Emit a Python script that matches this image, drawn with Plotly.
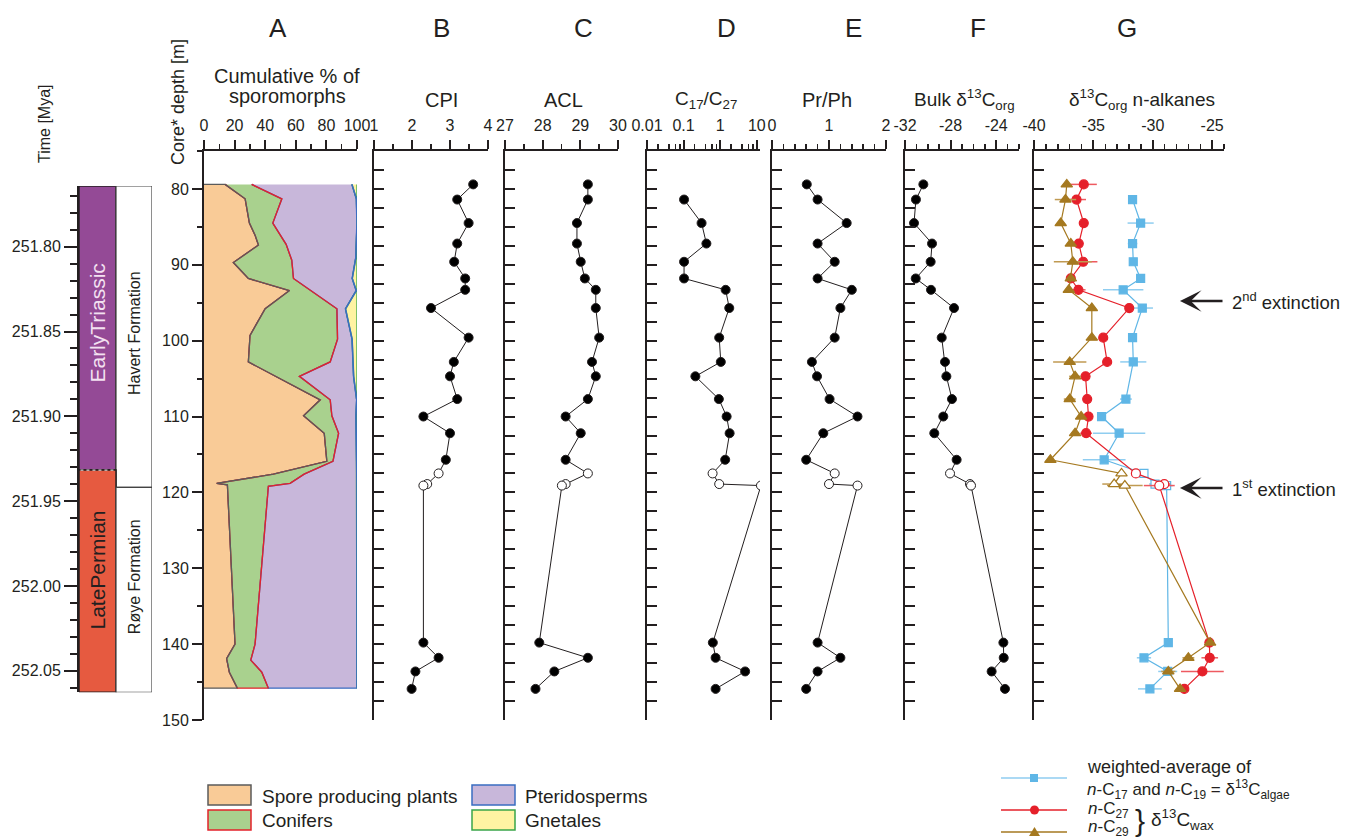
import plotly.graph_objects as go

W, H = 1347, 840

# ---------------- data ----------------
# sample depths (m) shared by panels B, C, E, F and n-C29
depth = [79.4, 81.4, 84.5, 87.2, 89.6, 91.8, 93.3, 95.7, 99.6, 102.8, 104.7,
         107.7, 110.0, 112.2, 115.7, 117.5, 118.9, 119.1, 139.8, 141.8, 143.6, 145.9]
open_depths = [117.5, 118.9, 119.1]

cpi = [3.61, 3.19, 3.49, 3.19, 3.11, 3.40, 3.40, 2.50, 3.49, 3.10, 3.00,
       3.19, 2.30, 3.00, 2.89, 2.70, 2.40, 2.30, 2.30, 2.70, 2.09, 1.99]
acl = [29.20, 29.20, 28.91, 28.91, 29.01, 29.12, 29.41, 29.41, 29.50, 29.31, 29.41,
       29.20, 28.61, 29.01, 28.61, 29.20, 28.61, 28.51, 27.91, 29.20, 28.31, 27.81]
c17c27_depth = [81.4, 84.5, 87.2, 89.6, 91.8, 93.3, 95.7, 99.6, 102.8, 104.7,
                107.7, 110.0, 112.2, 115.7, 117.5, 118.9, 119.1, 139.8, 141.8, 143.6, 145.9]
c17c27 = [0.103, 0.31, 0.42, 0.103, 0.103, 1.41, 1.77, 0.94, 1.04, 0.21,
          0.92, 1.50, 1.81, 1.37, 0.62, 0.94, 13.0, 0.63, 0.75, 4.8, 0.75]
pr_ph = [0.61, 0.80, 1.31, 0.80, 1.10, 0.80, 1.40, 1.20, 1.10, 0.70, 0.79,
         1.01, 1.50, 0.90, 0.60, 1.10, 1.00, 1.50, 0.80, 1.20, 0.80, 0.60]
bulk_d13c = [-30.39, -31.04, -31.21, -29.63, -29.75, -31.06, -29.72, -27.70, -28.78, -28.49, -28.37,
             -27.88, -28.64, -29.43, -27.47, -28.05, -26.30, -26.21, -23.37, -23.34, -24.40, -23.23]

# panel G
algae_depth = [81.4, 84.5, 87.2, 89.6, 91.8, 93.3, 95.7, 99.6, 102.8, 107.7,
               110.0, 112.2, 115.7, 117.5, 118.9, 119.1, 139.8, 141.8, 143.6, 145.9]
algae_d13c = [-31.70, -31.02, -31.70, -31.64, -31.02, -32.49, -30.88, -31.70, -31.64, -32.26,
              -34.31, -32.83, -34.09, -30.74, -29.81, -28.83, -28.69, -30.74, -28.74, -30.24]
algae_err = [0.3, 1.1, 0.4, 0.3, 0.3, 1.7, 0.9, 0.3, 1.1, 0.5,
             0.3, 2.2, 1.8, 0.3, 0.5, 0.5, 0.3, 0.6, 0.8, 1.0]
c27_depth = [79.4, 81.4, 84.5, 87.2, 89.6, 91.8, 93.3, 95.7, 99.6, 102.8, 104.7,
             107.7, 110.0, 112.2, 117.5, 118.9, 119.1, 139.8, 141.8, 143.6, 145.9]
c27_d13c = [-35.81, -36.42, -35.81, -36.23, -35.86, -36.90, -36.26, -31.98, -34.17, -33.84, -35.66,
            -35.52, -35.41, -35.61, -31.42, -29.03, -29.45, -25.23, -25.20, -25.82, -27.34]
c27_err = [1.1, 0.8, 0.3, 0.3, 1.2, 0.3, 0.6, 0.3, 0.3, 0.3, 0.3,
           0.3, 0.3, 0.5, 0.3, 0.5, 1.3, 0.3, 0.7, 1.8, 0.3]
c29_depth = depth
c29_d13c = [-37.24, -37.35, -37.75, -36.90, -36.73, -36.90, -37.07, -35.13, -35.13, -36.99, -36.54,
            -36.99, -36.03, -36.54, -38.62, -32.63, -33.25, -32.35, -25.17, -27.00, -28.69, -27.70]
c29_err = [0.3, 0.9, 0.3, 0.3, 1.6, 0.3, 0.3, 0.3, 0.3, 1.4, 0.5,
           0.5, 0.3, 0.3, 0.3, 0.3, 1.0, 1.5, 0.3, 0.5, 0.6, 0.3]

# panel A: cumulative % boundaries
spore_depth = [79.4, 81.3, 84.5, 86.1, 87.4, 89.7, 91.8, 93.4, 95.8, 99.3, 102.8,
               107.8, 109.9, 112.2, 115.9, 117.6, 118.8, 119.0, 140.0, 141.9, 143.7, 145.8]
spore_pct = [13.8, 26.9, 29.7, 33.4, 35.6, 19.2, 29.0, 55.9, 40.0, 30.1, 29.0,
             76.0, 65.1, 78.6, 80.3, 45.4, 8.3, 15.3, 20.3, 14.8, 16.6, 21.8]
conifer_depth = [79.4, 81.3, 84.5, 87.3, 89.4, 91.8, 95.8, 99.8, 102.8, 104.7, 107.8,
                 109.9, 112.2, 115.9, 117.6, 118.8, 119.2, 140.0, 142.1, 143.7, 145.8]
conifer_pct = [31.2, 50.9, 45.0, 53.7, 57.4, 58.5, 86.9, 87.3, 82.5, 62.4, 82.5,
               83.6, 88.0, 84.3, 65.5, 56.3, 42.1, 33.4, 30.6, 37.8, 42.1]
pterido_depth = [79.4, 81.3, 84.5, 89.1, 91.8, 93.4, 95.8, 99.8, 104.7, 107.8,
                 110.0, 112.2, 115.9, 119.0, 145.8]
pterido_pct = [96.7, 99.6, 100.0, 99.2, 96.9, 99.5, 92.5, 96.8, 97.8, 99.8,
               99.3, 99.5, 99.6, 100.0, 100.0]

# time column
time_ticks = [251.80, 251.85, 251.90, 251.95, 252.00, 252.05]
time_labels = ["251.80", "251.85", "251.90", "251.95", "252.00", "252.05"]
period_names = ["EarlyTriassic", "LatePermian"]
period_bounds = [251.7642, 251.9317, 252.0627]
period_label_pos = [251.845, 251.9906]
formation_names = ["Havert Formation", "Røye Formation"]
formation_bounds = [251.7642, 251.9419, 252.0627]
formation_label_pos = [251.8509, 251.9948]

depth_ticks = [80, 90, 100, 110, 120, 130, 140, 150]

# ---------------- helpers ----------------
INK = "#231f20"
FONT = "Liberation Sans, Arial, Helvetica, sans-serif"


def px(x):
    return x / W


def py(y):
    return 1 - y / H


fig = go.Figure()

YDOM = [py(720), py(151)]
DEPTH_RANGE = [150, 75]
panel_px = [(204, 357), (374, 488), (505, 618), (647, 760), (772, 886), (905, 1019), (1034, 1224)]


def xaxis_def(i, rng, tickvals, ticktext, minor, axtype="linear"):
    d = dict(domain=[px(panel_px[i][0]), px(panel_px[i][1])], anchor="y" if i == 0 else f"y{i+1}",
             side="top", range=rng, type=axtype, showline=True, linewidth=2, linecolor=INK,
             ticks="outside", ticklen=9, tickwidth=2, tickcolor=INK, showgrid=False, zeroline=False,
             tickmode="array", tickvals=tickvals, ticktext=ticktext, automargin=False,
             tickfont=dict(size=16, color=INK, family=FONT), ticklabelstandoff=3, fixedrange=True)
    m = dict(ticks="outside", ticklen=5, tickwidth=1.5, tickcolor=INK, showgrid=False)
    m.update(minor)
    d["minor"] = m
    return d


def yaxis_def(i):
    d = dict(domain=YDOM, anchor="x" if i == 0 else f"x{i+1}", range=DEPTH_RANGE, automargin=False,
             showline=True, linewidth=2, linecolor=INK, showgrid=False, zeroline=False, fixedrange=True)
    if i == 0:
        d.update(ticks="outside", ticklen=10, tickwidth=2, tickcolor=INK, tickmode="array",
                 tickvals=depth_ticks, ticktext=[str(t) for t in depth_ticks],
                 tickfont=dict(size=16, color=INK, family=FONT),
                 minor=dict(ticks="outside", ticklen=5, tickwidth=2, tickcolor=INK, dtick=5, tick0=75,
                            showgrid=False))
    else:
        d.update(ticks="inside", ticklen=10, tickwidth=2, tickcolor=INK, tickmode="linear",
                 tick0=75, dtick=2.5, showticklabels=False)
    return d


log_minor = [k * 10 ** e for e in (-2, -1, 0) for k in (2, 4, 6, 8)]

xaxes = [
    xaxis_def(0, [0, 100], [0, 20, 40, 60, 80, 100], ["0", "20", "40", "60", "80", "100"], dict(dtick=10, tick0=0)),
    xaxis_def(1, [1, 4], [1, 2, 3, 4], ["1", "2", "3", "4"], dict(dtick=0.5, tick0=1)),
    xaxis_def(2, [27, 30], [27, 28, 29, 30], ["27", "28", "29", "30"], dict(dtick=0.5, tick0=27)),
    xaxis_def(3, [-2, 1.088], [0.01, 0.1, 1, 10], ["0.01", "0.1", "1", "10"],
              dict(tickmode="array", tickvals=log_minor, ticklen=5), axtype="log"),
    xaxis_def(4, [0, 2], [0, 1, 2], ["0", "1", "2"], dict(dtick=0.2, tick0=0)),
    xaxis_def(5, [-32, -22], [-32, -28, -24], ["-32", "-28", "-24"], dict(dtick=1, tick0=-32)),
    xaxis_def(6, [-40, -24], [-40, -35, -30, -25], ["-40", "-35", "-30", "-25"], dict(dtick=1, tick0=-40)),
]

layout = dict(width=W, height=H, autosize=False, margin=dict(l=0, r=0, t=0, b=0, pad=0, autoexpand=False),
              paper_bgcolor="white", plot_bgcolor="rgba(0,0,0,0)", showlegend=False, hovermode=False,
              font=dict(family=FONT, size=16, color=INK))
for i in range(7):
    layout["xaxis" if i == 0 else f"xaxis{i+1}"] = xaxes[i]
    layout["yaxis" if i == 0 else f"yaxis{i+1}"] = yaxis_def(i)

# time column axes
layout["xaxis8"] = dict(domain=[px(79), px(152)], anchor="y8", range=[0, 1], visible=False, fixedrange=True,
                        automargin=False)
layout["yaxis8"] = dict(domain=[py(692.3), py(186)], anchor="x8", range=[period_bounds[-1], period_bounds[0]],
                        showline=True, linewidth=2, linecolor=INK, showgrid=False, zeroline=False,
                        ticks="outside", ticklen=13, tickwidth=2, tickcolor=INK, tickmode="array",
                        tickvals=time_ticks, ticktext=time_labels, automargin=False,
                        tickfont=dict(size=16, color=INK, family=FONT),
                        minor=dict(ticks="outside", ticklen=7, tickwidth=2, tickcolor=INK,
                                   dtick=0.01, tick0=251.80, showgrid=False), fixedrange=True)

# ---------------- panel A: stacked areas ----------------
c_spore, l_spore = "#f9cb97", "#5b5b5b"
c_conif, l_conif = "#a9d18e", "#e4222b"
c_pter, l_pter = "#c8b7da", "#3a6dc1"
c_gnet, l_gnet = "#fff3a2", "#3aa54a"
top_d, bot_d = spore_depth[0], spore_depth[-1]

polys = [
    ([0] + spore_pct + [0], [top_d] + spore_depth + [bot_d], c_spore, l_spore),
    (conifer_pct + spore_pct[::-1], conifer_depth + spore_depth[::-1], c_conif, l_conif),
    (pterido_pct + conifer_pct[::-1], pterido_depth + conifer_depth[::-1], c_pter, l_pter),
    ([100, 100] + pterido_pct[::-1], [top_d, bot_d] + pterido_depth[::-1], c_gnet, l_gnet),
]
for xs, ys, fc, lc in polys:
    fig.add_trace(go.Scatter(x=xs, y=ys, mode="lines", fill="toself", fillcolor=fc,
                             line=dict(color=lc, width=1.3), xaxis="x", yaxis="y"))
fig.add_trace(go.Scatter(x=pterido_pct, y=pterido_depth, mode="lines", line=dict(color=l_pter, width=1.6),
                         xaxis="x", yaxis="y"))
fig.add_trace(go.Scatter(x=conifer_pct, y=conifer_depth, mode="lines", line=dict(color=l_conif, width=1.3),
                         xaxis="x", yaxis="y"))
fig.add_trace(go.Scatter(x=spore_pct, y=spore_depth, mode="lines", line=dict(color=l_spore, width=1.3),
                         xaxis="x", yaxis="y"))


# ---------------- panels B-F ----------------
def profile(xs, ys, i):
    fills = ["white" if d in open_depths else "black" for d in ys]
    fig.add_trace(go.Scatter(x=xs, y=ys, mode="lines+markers", line=dict(color=INK, width=1),
                             marker=dict(size=9, color=fills, line=dict(color=INK, width=1)),
                             cliponaxis=True, xaxis=f"x{i+1}", yaxis=f"y{i+1}"))


profile(cpi, depth, 1)
profile(acl, depth, 2)
profile(c17c27, c17c27_depth, 3)
profile(pr_ph, depth, 4)
profile(bulk_d13c, depth, 5)

# ---------------- panel G ----------------
g_series = [
    (algae_d13c, algae_depth, algae_err, "#5fb6e6", "#8fcdf0", "square", 8),
    (c27_d13c, c27_depth, c27_err, "#e5202a", "#ee5a60", "circle", 9),
    (c29_d13c, c29_depth, c29_err, "#a57920", "#c09a52", "triangle-up", 10),
]
for xs, ys, errs, col, ecol, sym, sz in g_series:
    fills = ["white" if d in open_depths else col for d in ys]
    fig.add_trace(go.Scatter(x=xs, y=ys, mode="lines+markers", line=dict(color=col, width=1.2),
                             marker=dict(symbol=sym, size=sz, color=fills, line=dict(color=col, width=1.2)),
                             error_x=dict(type="data", array=errs, color=ecol, thickness=1.5, width=0),
                             xaxis="x7", yaxis="y7"))

# ---------------- shapes ----------------
shapes = []
# time column boxes
period_colors = ["#944a96", "#e65a40"]
for k in range(2):
    shapes.append(dict(type="rect", xref="x8", yref="y8", x0=0, x1=0.507,
                       y0=period_bounds[k], y1=period_bounds[k + 1],
                       fillcolor=period_colors[k], line=dict(color=INK, width=1.5), layer="below"))
    shapes.append(dict(type="rect", xref="x8", yref="y8", x0=0.507, x1=1,
                       y0=formation_bounds[k], y1=formation_bounds[k + 1],
                       fillcolor="white", line=dict(color="#444", width=1.2), layer="below"))
shapes.append(dict(type="line", xref="x8", yref="y8", x0=0.02, x1=0.49, y0=period_bounds[1], y1=period_bounds[1],
                   line=dict(color="white", width=1, dash="dot")))

# panel A legend boxes
legA = [(208, 785, c_spore, l_spore), (208, 810, c_conif, l_conif),
        (472, 785, c_pter, l_pter), (472, 810, c_gnet, l_gnet)]
for x0, y0, fc, lc in legA:
    shapes.append(dict(type="rect", xref="paper", yref="paper", x0=px(x0), x1=px(x0 + 43),
                       y0=py(y0 + 20), y1=py(y0), fillcolor=fc, line=dict(color=lc, width=1.5)))

# panel G legend lines & markers
for yy, col in [(778, "#8fcdf0"), (810, "#e5202a"), (832, "#a57920")]:
    shapes.append(dict(type="line", xref="paper", yref="paper", x0=px(1001), x1=px(1067),
                       y0=py(yy), y1=py(yy), line=dict(color=col, width=1.5)))
shapes.append(dict(type="rect", xref="paper", yref="paper", x0=px(1030), x1=px(1038), y0=py(782), y1=py(774),
                   fillcolor="#5fb6e6", line=dict(width=0)))
shapes.append(dict(type="circle", xref="paper", yref="paper", x0=px(1030), x1=px(1039), y0=py(814.5), y1=py(805.5),
                   fillcolor="#e5202a", line=dict(width=0)))
shapes.append(dict(type="path", xref="paper", yref="paper",
                   path=f"M {px(1029)} {py(836)} L {px(1034.5)} {py(827)} L {px(1040)} {py(836)} Z",
                   fillcolor="#a57920", line=dict(width=0)))

# ---------------- annotations ----------------
ann = []


def txt(x, y, s, size=18, xanchor="center", angle=0, color=INK):
    ann.append(dict(x=px(x), y=py(y), xref="paper", yref="paper", text=s, showarrow=False,
                    xanchor=xanchor, yanchor="middle", textangle=angle,
                    font=dict(size=size, color=color, family=FONT)))


for letter, x in zip("ABCDEFG", [278, 441, 583, 726, 853, 978, 1127]):
    txt(x, 28, letter, size=26)

txt(287, 76, "Cumulative % of", 20)
txt(287, 96, "sporomorphs", 20)
txt(441, 100, "CPI", 20)
txt(563, 100, "ACL", 20)
txt(706, 100, "C<sub>17</sub>/C<sub>27</sub>", 19)
txt(827, 100, "Pr/Ph", 20)
txt(964, 99, "Bulk δ<sup>13</sup>C<sub>org</sub>", 19)
txt(1142, 99, "δ<sup>13</sup>C<sub>org</sub> n-alkanes", 19)
txt(178, 102, "Core* depth [m]", 18, angle=-90)
txt(44, 124, "Time [Mya]", 16, angle=-90)

# time column labels
ann.append(dict(x=0.2535, y=period_label_pos[0], xref="x8", yref="y8", text=period_names[0], showarrow=False,
                textangle=-90, font=dict(size=21, color="#f3e1f1", family=FONT)))
ann.append(dict(x=0.2535, y=period_label_pos[1], xref="x8", yref="y8", text=period_names[1], showarrow=False,
                textangle=-90, font=dict(size=21, color=INK, family=FONT)))
for k in range(2):
    ann.append(dict(x=0.7535, y=formation_label_pos[k], xref="x8", yref="y8", text=formation_names[k],
                    showarrow=False, textangle=-90, font=dict(size=16, color=INK, family=FONT)))

# extinction arrows
for yy, label in [(301, "2<sup>nd</sup> extinction"), (488, "1<sup>st</sup> extinction")]:
    ann.append(dict(x=px(1180), y=py(yy), xref="paper", yref="paper", ax=44, ay=0, text="",
                    showarrow=True, arrowhead=3, arrowsize=1.5, arrowwidth=2.4, arrowcolor=INK))
    txt(1230, yy, label, 18.5, xanchor="left")

# legends
txt(260, 796, "Spore producing plants", 19, xanchor="left")
txt(260, 820, "Conifers", 19, xanchor="left")
txt(523, 796, "Pteridosperms", 19, xanchor="left")
txt(523, 820, "Gnetales", 19, xanchor="left")
txt(1085, 767, "weighted-average of", 18, xanchor="left")
txt(1085, 789, "<i>n</i>-C<sub>17</sub> and <i>n</i>-C<sub>19</sub> = δ<sup>13</sup>C<sub>algae</sub>", 17, xanchor="left")
txt(1086, 810, "<i>n</i>-C<sub>27</sub>", 17, xanchor="left")
txt(1086, 828, "<i>n</i>-C<sub>29</sub>", 17, xanchor="left")
txt(1140, 820, "}", 30)
txt(1149, 819, "δ<sup>13</sup>C<sub>wax</sub>", 19, xanchor="left")

layout["shapes"] = shapes
layout["annotations"] = ann
fig.update_layout(**layout)

fig.write_html("out.html", config={"displayModeBar": False, "staticPlot": True},
               post_script="document.body.style.margin='0';document.body.style.overflow='hidden';")
